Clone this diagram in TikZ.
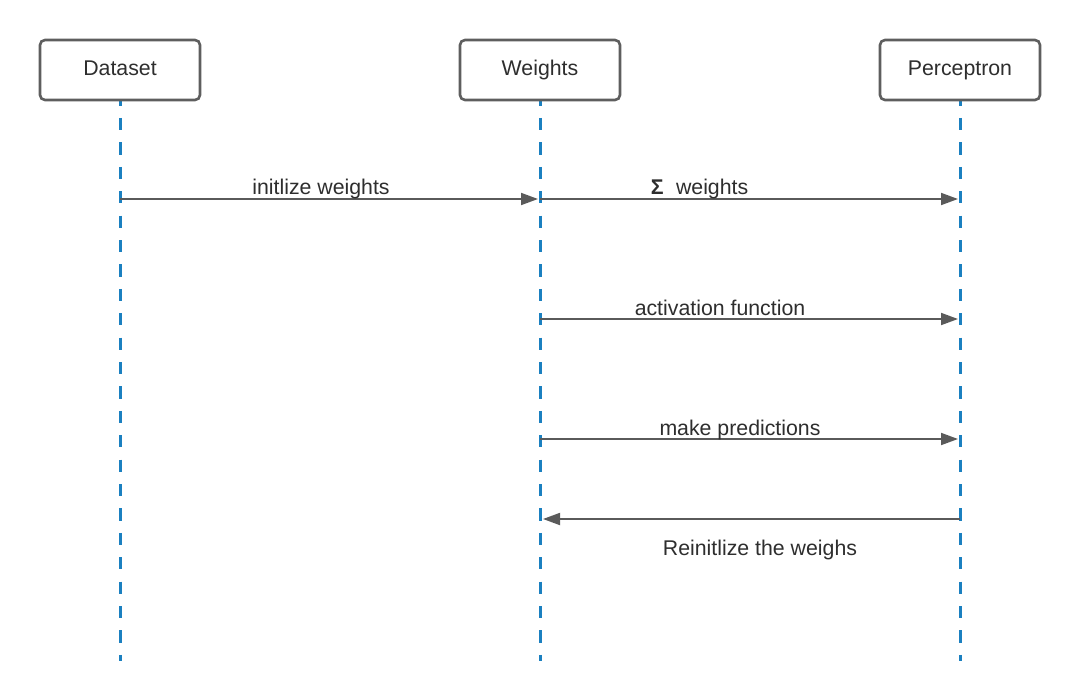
\documentclass[tikz,border=0pt]{standalone}
\usepackage{fontspec}
\setmainfont{Liberation Sans}
\usetikzlibrary{arrows.meta}
\definecolor{boxline}{HTML}{5E5E5E}
\definecolor{msgline}{HTML}{5A5A5A}
\definecolor{lifeblue}{HTML}{1B80C0}
\definecolor{txt}{HTML}{2E2E2E}
\tikzset{
  actor/.style={draw=boxline, line width=2.6bp, rounded corners=5bp, fill=white,
    minimum width=160bp, minimum height=60bp, inner sep=0pt,
    text height=15.3bp, text depth=4.5bp, text=txt,
    font=\fontsize{21.3bp}{25bp}\selectfont},
  lifeline/.style={draw=lifeblue, line width=3bp, dash pattern=on 12.2bp off 12.2bp},
  msg/.style={draw=msgline, line width=1.8bp, -{Triangle[length=17bp,width=12bp]}},
  lbl/.style={anchor=base, inner sep=0pt, text=txt, font=\fontsize{21.3bp}{25bp}\selectfont}
}
\begin{document}
\begin{tikzpicture}[x=1bp,y=-1bp]
\useasboundingbox[fill=white] (0,0) rectangle (1080,700);
% lifeline ends
\coordinate (dtop) at (120,93.6);
\coordinate (wtop) at (540,93.6);
\coordinate (ptop) at (960,93.6);
\coordinate (dbot) at (120,661);
\coordinate (wbot) at (540,661);
\coordinate (pbot) at (960,661);
\draw[lifeline] (dtop) -- (dbot);
\draw[lifeline] (wtop) -- (wbot);
\draw[lifeline] (ptop) -- (pbot);
% actors
\node[actor] (ds) at (120,70) {Dataset};
\node[actor] (wt) at (540,70) {Weights};
\node[actor] (pc) at (960,70) {Perceptron};
% message anchors on lifelines
\coordinate (m1s) at (120,199);
\coordinate (m1e) at (540,199);
\coordinate (m2s) at (540,199);
\coordinate (m2e) at (960,199);
\coordinate (m3s) at (540,319);
\coordinate (m3e) at (960,319);
\coordinate (m4s) at (540,439);
\coordinate (m4e) at (960,439);
\coordinate (m5s) at (960,519);
\coordinate (m5e) at (540,519);
% messages
\draw[msg, shorten >=2bp] (m1s) -- (m1e);
\draw[msg, shorten >=2bp] (m2s) -- (m2e);
\draw[msg, shorten >=2bp] (m3s) -- (m3e);
\draw[msg, shorten >=2bp] (m4s) -- (m4e);
\draw[msg, shorten >=3bp] (m5s) -- (m5e);
% labels
\node[lbl] (l1) at (321,195) {initlize weights};
\node[lbl] (l2) at (699.5,195) {{\bfseries Σ}\hspace{12.5bp}weights};
\node[lbl] (l3) at (720,315) {activation function};
\node[lbl] (l4) at (740,435) {make predictions};
\node[lbl] (l5) at (760,555) {Reinitlize the weighs};
\end{tikzpicture}
\end{document}
